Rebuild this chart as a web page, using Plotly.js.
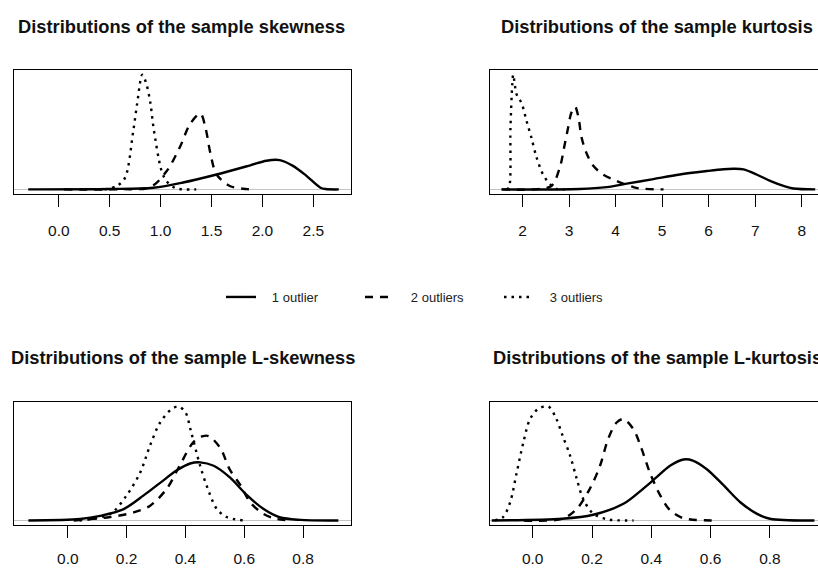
<!DOCTYPE html>
<html>
<head>
<meta charset="utf-8">
<script src="https://cdn.plot.ly/plotly-3.0.1.min.js"></script>
<style>html,body{margin:0;padding:0;background:#fff;}#chart{width:818px;height:568px;}</style>
</head>
<body>
<div id="chart"></div>
<script>
// Series names
const seriesNames = ["1 outlier", "2 outliers", "3 outliers"];
const panelTitles = [
  "Distributions of the sample skewness",
  "Distributions of the sample kurtosis",
  "Distributions of the sample L-skewness",
  "Distributions of the sample L-kurtosis"
];

// Panel 1: sample skewness (relative density)
const skewX1 = [-0.30, 0.50, 0.93, 1.22, 1.55, 1.88, 2.04, 2.17, 2.30, 2.43, 2.57, 2.62, 2.75];
const skewY1 = [0, 0.003, 0.015, 0.06, 0.13, 0.21, 0.25, 0.255, 0.205, 0.12, 0.015, 0.003, 0];
const skewX2 = [0.05, 0.60, 0.90, 1.06, 1.19, 1.29, 1.39, 1.44, 1.49, 1.55, 1.68, 1.85, 1.93];
const skewY2 = [0, 0.002, 0.02, 0.16, 0.37, 0.57, 0.66, 0.54, 0.31, 0.13, 0.03, 0.002, 0];
const skewX3 = [0.45, 0.57, 0.65, 0.73, 0.77, 0.82, 0.86, 0.90, 0.93, 1.01, 1.06, 1.15, 1.35];
const skewY3 = [0, 0.03, 0.10, 0.50, 0.75, 1.0, 0.92, 0.75, 0.54, 0.16, 0.07, 0.01, 0];

// Panel 2: sample kurtosis
const kurtX1 = [1.55, 3.23, 3.81, 4.24, 4.81, 5.38, 5.96, 6.32, 6.53, 6.75, 7.03, 7.32, 7.61, 7.82, 8.29];
const kurtY1 = [0, 0.004, 0.02, 0.05, 0.09, 0.13, 0.16, 0.176, 0.18, 0.175, 0.13, 0.074, 0.03, 0.008, 0];
const kurtX2 = [1.55, 2.30, 2.62, 2.80, 2.91, 2.98, 3.05, 3.13, 3.20, 3.27, 3.38, 3.52, 3.73, 4.02, 4.38, 4.52, 5.03];
const kurtY2 = [0, 0.002, 0.03, 0.19, 0.40, 0.54, 0.67, 0.72, 0.63, 0.45, 0.31, 0.206, 0.13, 0.074, 0.02, 0.008, 0];
const kurtX3 = [1.66, 1.71, 1.74, 1.78, 1.80, 1.87, 1.98, 2.09, 2.19, 2.30, 2.44, 2.59, 2.73, 2.90];
const kurtY3 = [0, 0.02, 0.54, 0.92, 1.0, 0.83, 0.75, 0.59, 0.45, 0.28, 0.13, 0.045, 0.005, 0];

// Panel 3: sample L-skewness
const lskewX1 = [-0.134, 0.042, 0.11, 0.19, 0.258, 0.314, 0.371, 0.416, 0.45, 0.496, 0.55, 0.61, 0.666, 0.72, 0.79, 0.92];
const lskewY1 = [0, 0.013, 0.04, 0.10, 0.22, 0.33, 0.44, 0.50, 0.51, 0.48, 0.38, 0.22, 0.10, 0.028, 0.005, 0];
const lskewX2 = [0.02, 0.144, 0.224, 0.28, 0.337, 0.38, 0.428, 0.46, 0.48, 0.52, 0.55, 0.587, 0.62, 0.666, 0.71, 0.757];
const lskewY2 = [0, 0.03, 0.07, 0.13, 0.28, 0.48, 0.69, 0.74, 0.74, 0.63, 0.45, 0.31, 0.16, 0.057, 0.013, 0];
const lskewX3 = [0.04, 0.144, 0.20, 0.246, 0.28, 0.314, 0.354, 0.377, 0.40, 0.42, 0.45, 0.48, 0.507, 0.54, 0.60];
const lskewY3 = [0, 0.057, 0.22, 0.42, 0.66, 0.86, 0.98, 1.0, 0.95, 0.77, 0.48, 0.25, 0.10, 0.03, 0];

// Panel 4: sample L-kurtosis
const lkurtX1 = [-0.138, 0.10, 0.204, 0.306, 0.373, 0.418, 0.463, 0.508, 0.54, 0.587, 0.643, 0.70, 0.755, 0.80, 0.95];
const lkurtY1 = [0, 0.015, 0.05, 0.146, 0.28, 0.38, 0.48, 0.535, 0.526, 0.45, 0.31, 0.16, 0.06, 0.015, 0];
const lkurtX2 = [-0.03, 0.10, 0.148, 0.193, 0.227, 0.255, 0.283, 0.306, 0.34, 0.367, 0.395, 0.43, 0.463, 0.508, 0.62];
const lkurtY2 = [0, 0.015, 0.10, 0.28, 0.48, 0.72, 0.86, 0.89, 0.80, 0.63, 0.42, 0.22, 0.09, 0.02, 0];
const lkurtX3 = [-0.127, -0.10, -0.076, -0.054, -0.031, -0.009, 0.019, 0.053, 0.08, 0.10, 0.126, 0.148, 0.17, 0.204, 0.25, 0.34];
const lkurtY3 = [0, 0.03, 0.16, 0.42, 0.69, 0.89, 0.98, 1.0, 0.89, 0.75, 0.57, 0.37, 0.19, 0.06, 0.01, 0];

// Tick values
const skewTicks = [0, 0.5, 1.0, 1.5, 2.0, 2.5];
const kurtTicks = [2, 3, 4, 5, 6, 7, 8];
const lmomTicks = [0, 0.2, 0.4, 0.6, 0.8];

const W = 818, H = 568;
const FONT = '"Liberation Sans", Arial, sans-serif';
const dashes = ["solid", "8px,7px", "2.5px,5px"];
const PAD = "\u00a0\u00a0\u00a0";

const panels = [
  {xs: [skewX1, skewX2, skewX3], ys: [skewY1, skewY2, skewY3], ax: "", ticks: skewTicks, fmt: ".1f", range: [-0.44, 2.87]},
  {xs: [kurtX1, kurtX2, kurtX3], ys: [kurtY1, kurtY2, kurtY3], ax: "2", ticks: kurtTicks, fmt: "d", range: [1.30, 8.35]},
  {xs: [lskewX1, lskewX2, lskewX3], ys: [lskewY1, lskewY2, lskewY3], ax: "3", ticks: lmomTicks, fmt: ".1f", range: [-0.183, 0.963]},
  {xs: [lkurtX1, lkurtX2, lkurtX3], ys: [lkurtY1, lkurtY2, lkurtY3], ax: "4", ticks: lmomTicks, fmt: ".1f", range: [-0.144, 0.962]}
];

// pixel boxes of the plotting regions
const boxes = [
  {l: 14, r: 351, t: 70, b: 194, mirrorY: true, standoff: 10},
  {l: 490, r: 818, t: 70, b: 194, mirrorY: false, standoff: 10},
  {l: 14, r: 351, t: 402, b: 525, mirrorY: true, standoff: 7},
  {l: 490, r: 818, t: 402, b: 525, mirrorY: false, standoff: 7}
];
const titleCenters = [{x: 181.5, y: 26}, {x: 657, y: 26}, {x: 182.5, y: 357}, {x: 657, y: 357}];

const traces = [];
panels.forEach((p, pi) => {
  for (let s = 0; s < 3; s++) {
    traces.push({
      type: "scatter", mode: "lines",
      x: p.xs[s], y: p.ys[s],
      xaxis: "x" + p.ax, yaxis: "y" + p.ax,
      name: PAD + seriesNames[s],
      showlegend: pi === 0,
      line: {color: "#000", width: 2.4, dash: dashes[s], shape: "spline", smoothing: 0.9},
      hoverinfo: "skip"
    });
  }
});

const layout = {
  width: W, height: H,
  margin: {l: 0, r: 0, t: 0, b: 0},
  paper_bgcolor: "#fff", plot_bgcolor: "#fff",
  font: {family: FONT, color: "#111", size: 15},
  showlegend: true,
  legend: {
    orientation: "h", x: 221 / W, xanchor: "left", y: 1 - 297 / H, yanchor: "middle",
    font: {family: FONT, size: 13, color: "#222"},
    entrywidth: 94, entrywidthmode: "pixels", itemwidth: 30,
    bgcolor: "rgba(0,0,0,0)", borderwidth: 0
  },
  annotations: titleCenters.map((c, i) => ({
    text: "<b>" + panelTitles[i] + "</b>",
    xref: "paper", yref: "paper", x: c.x / W, y: 1 - c.y / H,
    xanchor: "center", yanchor: "middle", showarrow: false,
    font: {family: FONT, size: 18.3, color: "#111"}
  }))
};

panels.forEach((p, i) => {
  const b = boxes[i];
  layout["xaxis" + p.ax] = {
    domain: [b.l / W, b.r / W], anchor: "y" + p.ax, range: p.range,
    showline: true, mirror: true, linecolor: "#000", linewidth: 1,
    showgrid: false, zeroline: false,
    tickmode: "array", tickvals: p.ticks, tickformat: p.fmt,
    ticks: "outside", ticklen: 12, tickcolor: "#000", tickwidth: 1,
    ticklabelstandoff: b.standoff,
    tickfont: {family: FONT, size: 15.5, color: "#111"}
  };
  layout["yaxis" + p.ax] = {
    domain: [1 - b.b / H, 1 - b.t / H], anchor: "x" + p.ax, range: [-0.04, 1.04],
    showline: true, mirror: b.mirrorY, linecolor: "#000", linewidth: 1,
    showgrid: false, showticklabels: false, ticks: "",
    zeroline: true, zerolinecolor: "#c4c4c4", zerolinewidth: 1.5
  };
});

Plotly.newPlot("chart", traces, layout, {staticPlot: true, displayModeBar: false});
</script>
</body>
</html>
